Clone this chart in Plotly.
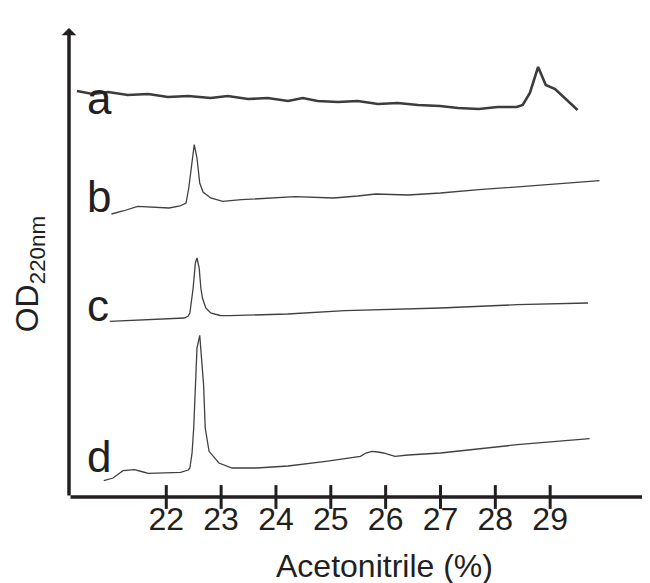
import plotly.graph_objects as go

# Acetonitrile (%) / OD (arbitrary, stacked)
a_x = [20.37, 20.66, 20.94, 21.30, 21.67, 22.03, 22.40, 22.81, 23.12, 23.49, 23.85, 24.22,
       24.49, 24.76, 25.13, 25.49, 25.86, 26.22, 26.59, 26.99, 27.32, 27.70, 28.04, 28.39,
       28.50, 28.63, 28.78, 28.87, 28.92, 29.09, 29.23, 29.38, 29.50]
a_y = [406, 403, 405, 402, 403, 400, 401, 399, 401, 398, 399, 396,
       399, 396, 395, 396, 393, 394, 392, 391, 389, 388, 390, 390,
       392, 404, 430, 419, 412, 408, 401, 393, 387]

b_x = [21.00, 21.21, 21.48, 21.76, 22.05, 22.25, 22.36, 22.41, 22.47, 22.51, 22.56, 22.61,
       22.67, 22.81, 23.03, 23.37, 24.35, 25.05, 25.49, 25.82, 26.41, 27.00, 27.70, 28.78, 29.90]
b_y = [283, 286, 290.7, 290, 289, 291, 294, 309, 339, 352.3, 339, 314,
       305, 299, 295.7, 297.3, 300.3, 299, 301, 303, 302, 304, 307.3, 311.5, 316.3]

c_x = [20.97, 21.67, 22.33, 22.40, 22.43, 22.49, 22.53, 22.56, 22.60, 22.63, 22.66, 22.72,
       22.81, 22.98, 23.16, 24.21, 25.26, 27.00, 28.40, 29.69]
c_y = [175.7, 177.5, 179, 181, 184, 209, 234, 239, 229, 209, 199, 189,
       184, 181.5, 181.3, 183, 186.3, 189, 192.3, 194]

d_x = [20.86, 21.03, 21.21, 21.42, 21.58, 21.67, 22.26, 22.40, 22.43, 22.47, 22.50, 22.53,
       22.56, 22.61, 22.63, 22.68, 22.71, 22.78, 22.96, 23.20, 23.65, 24.22, 24.91, 25.54,
       25.64, 25.75, 25.86, 25.96, 26.17, 26.41, 27.00, 27.68, 28.40, 29.72]
d_y = [16.3, 19, 26.3, 27.3, 25, 23.7, 24.7, 27, 29, 44, 69, 109,
       149, 161.7, 149, 112.3, 69, 45.7, 34, 29, 29, 31, 35.7, 40.7,
       44, 45.7, 45, 44, 40.7, 42, 44, 48, 52.3, 58.3]

tick_vals = [22, 23, 24, 25, 26, 27, 28, 29]
labels = ['a', 'b', 'c', 'd']
label_y = [399, 301, 192, 41]

x_min, x_max = 20.226, 30.93
y_max = 469

ink = '#231f20'
font_family = 'Arial, Liberation Sans, sans-serif'

fig = go.Figure()

fig.add_trace(go.Scatter(x=a_x, y=a_y, mode='lines',
                         line=dict(color='#3c3c3c', width=2.6)))
for xs, ys in [(b_x, b_y), (c_x, c_y), (d_x, d_y)]:
    fig.add_trace(go.Scatter(x=xs, y=ys, mode='lines',
                             line=dict(color='#404040', width=1.3)))

# tick marks crossing the axis line
fig.add_trace(go.Scatter(x=tick_vals, y=[0] * len(tick_vals), mode='markers',
                         marker=dict(symbol='line-ns-open', size=17, color=ink,
                                     line=dict(color=ink, width=3)),
                         cliponaxis=False, hoverinfo='skip'))

annotations = []
# axis arrows
annotations.append(dict(x=x_max, y=0, ax=x_min, ay=0, xref='x', yref='y',
                        axref='x', ayref='y', text='', showarrow=True,
                        arrowhead=1, arrowsize=0.7, arrowwidth=3.5, arrowcolor=ink))
annotations.append(dict(x=x_min, y=y_max, ax=x_min, ay=0, xref='x', yref='y',
                        axref='x', ayref='y', text='', showarrow=True,
                        arrowhead=1, arrowsize=0.7, arrowwidth=3.5, arrowcolor=ink))

for lab, ly in zip(labels, label_y):
    annotations.append(dict(x=0.027, y=ly, xref='paper', yref='y', text=lab,
                            showarrow=False, xanchor='left', yanchor='middle',
                            font=dict(size=44, color=ink, family=font_family)))

annotations.append(dict(x=0.538, y=-0.148, xref='paper', yref='paper',
                        text='Acetonitrile (%)', showarrow=False,
                        xanchor='center', yanchor='middle',
                        font=dict(size=32, color=ink, family=font_family)))
annotations.append(dict(x=-0.068, y=0.475, xref='paper', yref='paper',
                        text='OD<sub>220nm</sub>', showarrow=False, textangle=-90,
                        xanchor='center', yanchor='middle',
                        font=dict(size=32, color=ink, family=font_family)))

fig.update_layout(
    width=650, height=583,
    margin=dict(l=61, r=2, t=20, b=94),
    paper_bgcolor='white', plot_bgcolor='white',
    showlegend=False,
    annotations=annotations,
    xaxis=dict(range=[x_min, x_max], showgrid=False, zeroline=False, showline=False,
               tickmode='array', tickvals=tick_vals, ticks='',
               tickfont=dict(size=32, color=ink, family=font_family)),
    yaxis=dict(range=[0, y_max], showgrid=False, zeroline=False, showline=False,
               showticklabels=False, ticks=''),
)

fig.write_html("out.html")
